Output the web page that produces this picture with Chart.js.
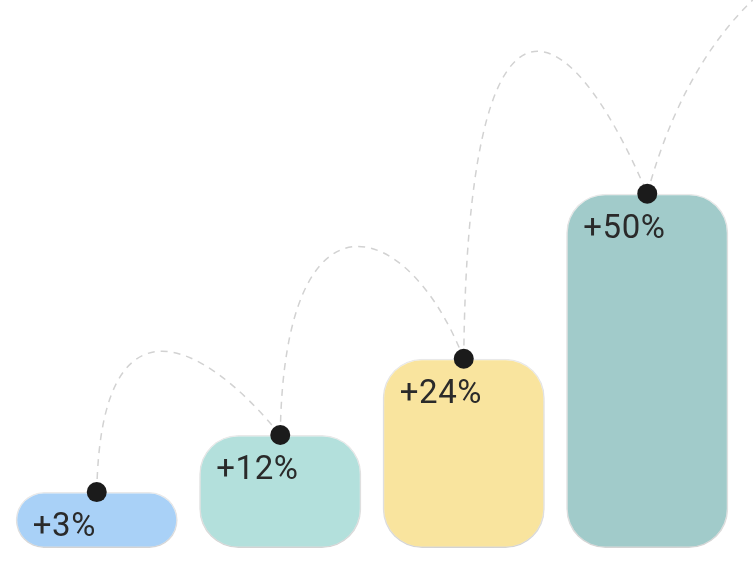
<!DOCTYPE html>
<html>
<head>
<meta charset="utf-8">
<script src="https://cdn.jsdelivr.net/npm/chart.js@4"></script>
<style>
  html, body { margin: 0; padding: 0; background: #fff; }
  #wrap { width: 753px; height: 570px; position: relative; }
</style>
</head>
<body>
<div id="wrap"><canvas id="growth"></canvas></div>
<script>
const categories = ["Step 1", "Step 2", "Step 3", "Step 4"];
const growth = [3, 12, 24, 50];
const growthLabels = ["+3%", "+12%", "+24%", "+50%"];
const barColors = ["#a9d1f7", "#b3e0dc", "#f9e49e", "#a1cbca"];

// how high each dashed hop rises above the next dot, and where it bends
const hopLift = [141, 182, 234];
const hopBend = [0.55, 0.7, 0.55];

const Y_MIN = -5.8;

const barShadow = {
  id: "barShadow",
  beforeDatasetDraw(chart, args) {
    if (args.index !== 0) return;
    const ctx = chart.ctx;
    ctx.save();
    ctx.shadowColor = "rgba(0,0,0,0.14)";
    ctx.shadowBlur = 16;
    ctx.shadowOffsetY = 7;
  },
  afterDatasetDraw(chart, args) {
    if (args.index !== 0) return;
    const ctx = chart.ctx;
    ctx.restore();

    const bars = chart.getDatasetMeta(0).data;

    // labels inside the bars
    ctx.save();
    ctx.fillStyle = "#2a2a2a";
    ctx.font = "400 33px Roboto, 'Open Sans', sans-serif";
    ctx.letterSpacing = "0.6px";
    ctx.textBaseline = "alphabetic";
    bars.forEach((b, i) => {
      ctx.fillText(growthLabels[i], b.x - b.width / 2 + 17, b.y + 44);
    });
    ctx.restore();

    // dashed hops between the dots
    ctx.save();
    ctx.strokeStyle = "#d2d2d2";
    ctx.lineWidth = 1.5;
    ctx.setLineDash([7, 6]);
    for (let i = 0; i < bars.length - 1; i++) {
      const a = bars[i], b = bars[i + 1];
      const w = b.x - a.x;
      const L = hopLift[i];
      ctx.beginPath();
      ctx.moveTo(a.x, a.y);
      ctx.bezierCurveTo(a.x + 0.02 * w, b.y - L, a.x + hopBend[i] * w, b.y - L + 40, b.x, b.y);
      ctx.stroke();
    }
    const last = bars[bars.length - 1];
    ctx.beginPath();
    ctx.moveTo(last.x, last.y);
    ctx.quadraticCurveTo(last.x + 42, last.y - 154, last.x + 142, last.y - 224);
    ctx.stroke();
    ctx.restore();
  }
};

new Chart(document.getElementById("growth"), {
  data: {
    labels: categories,
    datasets: [
      {
        type: "bar",
        data: growth,
        base: Y_MIN,
        backgroundColor: barColors,
        borderColor: "rgba(0,0,0,0.07)",
        borderWidth: 1.5,
        borderSkipped: false,
        borderRadius: 39,
        barPercentage: 0.883,
        categoryPercentage: 1,
        order: 1,
      },
      {
        type: "line",
        data: growth,
        showLine: false,
        pointRadius: 10,
        pointHoverRadius: 10,
        pointBackgroundColor: "#1b1b1b",
        pointBorderWidth: 0,
        clip: false,
        order: 0,
      },
    ],
  },
  options: {
    responsive: true,
    maintainAspectRatio: false,
    animation: false,
    layout: { autoPadding: false, padding: { left: 5, right: 14, top: 0, bottom: 22 } },
    plugins: { legend: { display: false }, tooltip: { enabled: false } },
    scales: {
      x: { display: false, offset: true },
      y: { display: false, min: Y_MIN, max: 80.5 },
    },
  },
  plugins: [barShadow],
});
</script>
</body>
</html>
